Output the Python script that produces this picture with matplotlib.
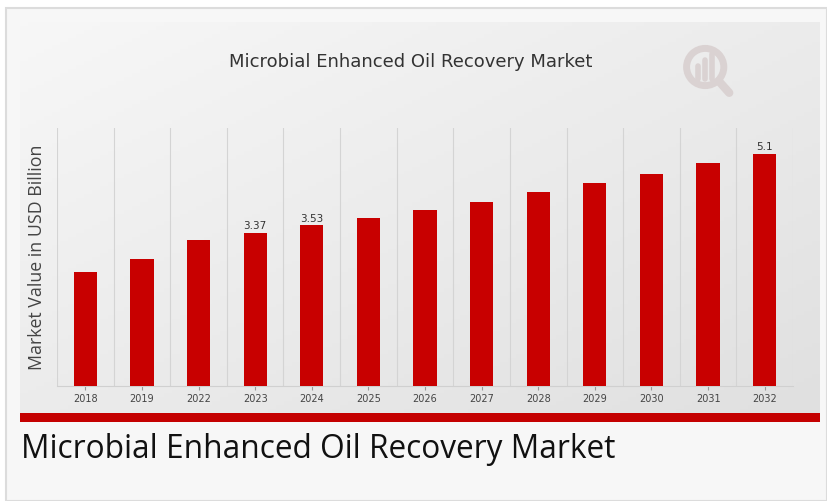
import numpy as np
import matplotlib
matplotlib.use("Agg")
import matplotlib.pyplot as plt
from matplotlib.patches import Rectangle, Circle

# data
years = ["2018", "2019", "2022", "2023", "2024", "2025", "2026",
         "2027", "2028", "2029", "2030", "2031", "2032"]
values = [2.51, 2.79, 3.21, 3.37, 3.53, 3.69, 3.87,
          4.04, 4.26, 4.46, 4.66, 4.90, 5.10]
shown_labels = {"2023": "3.37", "2024": "3.53", "2032": "5.1"}

W, H = 827, 501
fig = plt.figure(figsize=(W / 100, H / 100), dpi=100)
fig.patch.set_facecolor("white")

def fx(px):
    return px / W

def fy(py):
    return 1 - py / H

# outer frame
fig.patches.append(Rectangle((fx(6), 0), fx(827) - fx(6), fy(8), transform=fig.transFigure,
                             facecolor="#f7f7f7", edgecolor="#dcdcdc", lw=1.5, zorder=-10))

# gradient panel behind the chart
bg = fig.add_axes([fx(20), fy(413), fx(820) - fx(20), fy(22) - fy(413)])
yy, xx = np.mgrid[0:1:100j, 0:1:100j]
grad = 0.5 * xx + 0.5 * yy
bg.imshow(grad, cmap=matplotlib.colors.LinearSegmentedColormap.from_list("g", ["#f7f7f7", "#e0e0e0"]),
          aspect="auto", extent=[0, 1, 0, 1], origin="upper")
bg.axis("off")

# red band
fig.patches.append(Rectangle((fx(20), fy(422)), fx(820) - fx(20), fy(413) - fy(422),
                             transform=fig.transFigure, facecolor="#c40000", edgecolor="none", zorder=2))

# logo (faint)
lg = fig.add_axes([fx(680), fy(100), fx(60), fy(40) - fy(100)])
lg.set_xlim(0, 1); lg.set_ylim(0, 1); lg.axis("off")
lg.add_patch(Circle((0.42, 0.55), 0.31, fill=False, edgecolor="#dad2d2", lw=5))
for bx, bh in [(0.3, 0.22), (0.42, 0.32), (0.54, 0.42)]:
    lg.plot([bx, bx], [0.35, 0.35 + bh], color="#dad2d2", lw=4, solid_capstyle="round")
lg.plot([0.66, 0.82], [0.3, 0.12], color="#dad2d2", lw=6, solid_capstyle="round")

# main chart
ax = fig.add_axes([fx(57), fy(386), fx(793) - fx(57), fy(128) - fy(386)])
ax.set_facecolor("none")
x = np.arange(len(years))
bars = ax.bar(x, values, width=0.41, color="#c80000", zorder=3)
for b, yr in zip(bars, years):
    if yr in shown_labels:
        ax.text(b.get_x() + b.get_width() / 2, b.get_height() + 0.04, shown_labels[yr],
                ha="center", va="bottom", fontsize=7.5, color="#333333")

ax.set_xlim(-0.5, len(years) - 0.5)
ax.set_ylim(0, 5.67)
ax.set_xticks(x)
ax.set_xticklabels(years, fontsize=7, color="#444444")
ax.set_yticks([])
ax.set_xticks(np.arange(-0.5, len(years), 1), minor=True)
ax.grid(True, which="minor", axis="x", color="#d4d4d4", lw=0.8)
ax.tick_params(axis="x", which="major", length=3, color="#999999", pad=3)
ax.tick_params(axis="x", which="minor", length=0)
for s in ["top", "right", "left"]:
    ax.spines[s].set_visible(False)
ax.spines["bottom"].set_color("#d0d0d0")
ax.set_ylabel("Market Value in USD Billion", fontsize=12.8, color="#444444",
              family="Open Sans", labelpad=8)

fig.text(fx(411), fy(62), "Microbial Enhanced Oil Recovery Market", ha="center", va="center",
         fontsize=13, color="#333333")
fig.text(fx(21), fy(450), "Microbial Enhanced Oil Recovery Market", ha="left", va="center",
         fontsize=22.8, color="#111111", family="Open Sans")

fig.savefig("out.png", dpi=100)
